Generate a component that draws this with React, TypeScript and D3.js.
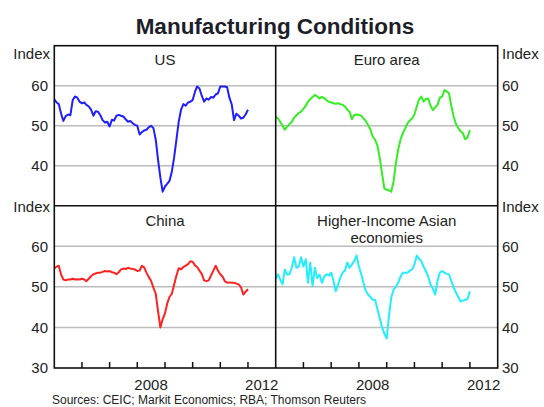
import { useEffect, useRef } from 'react';
import * as d3 from 'd3';

// Monthly PMI readings, Jan 2005 - Jan 2012
const usPmi = [
  56.6, 55.8, 55.4, 53.0, 51.2, 52.4, 52.8, 52.6, 56.4, 57.3, 57.0, 56.0,
  55.6, 55.8, 55.2, 54.8, 54.0, 52.5, 53.6, 53.5, 52.6, 51.4, 50.8, 51.0,
  49.8, 51.5, 51.3, 52.5, 52.7, 52.5, 52.3, 51.6, 51.0, 51.2, 50.6, 50.2,
  50.0, 47.8, 48.4, 48.8, 49.0, 49.6, 50.0, 49.4, 46.5, 41.5, 37.0, 33.5,
  34.8, 35.5, 36.2, 38.5, 42.0, 46.5, 51.0, 54.0, 55.4, 55.0, 55.8, 56.0,
  56.4, 58.5, 59.8, 59.3, 57.5, 56.0, 56.8, 56.5, 57.2, 57.0, 57.8, 58.1,
  59.8, 59.8, 59.8, 59.6, 57.0, 55.3, 51.4, 53.0, 52.5, 51.8, 52.0, 52.8,
  54.0,
];
const euroPmi = [
  52.2, 51.8, 51.0, 50.0, 49.0, 49.8, 50.4, 51.0, 52.0, 52.6, 53.2, 53.5,
  54.2, 55.0, 56.0, 56.6, 57.2, 57.7, 57.3, 56.8, 57.2, 56.9, 56.4, 56.0,
  55.8, 55.6, 55.5, 55.6, 55.4, 55.2, 54.8, 54.0, 53.5, 51.6, 52.7, 52.8,
  52.7, 52.5, 51.8, 51.2, 50.2, 49.0, 47.3, 46.5, 45.0, 42.0, 38.0, 34.3,
  34.0, 33.8, 33.5, 36.0, 40.5, 44.0, 46.5, 48.1, 49.3, 50.6, 51.3, 51.8,
  52.8, 54.8, 56.5, 57.3, 56.0, 56.7, 56.8, 55.0, 53.9, 54.6, 55.2, 57.0,
  57.3, 58.9, 58.6, 58.1, 55.0, 52.3, 50.5, 49.4, 48.6, 48.1, 46.6, 47.1,
  48.9,
];
const chinaPmi = [
  54.5, 55.0, 55.2, 53.0, 51.8, 51.6, 51.8, 51.8, 52.0, 51.8, 51.9, 51.8,
  52.0, 51.8, 51.4, 52.0, 52.6, 53.1, 53.3, 53.5, 53.5, 53.7, 53.9, 53.8,
  53.9, 53.6, 53.5, 53.1, 53.6, 54.3, 54.5, 54.4, 54.7, 54.5, 54.4, 54.3,
  53.9, 54.0, 55.2, 54.8, 53.5, 52.4, 51.5, 49.8, 48.3, 44.0, 40.0, 42.0,
  43.5, 46.0, 47.5, 48.3, 50.5, 52.8, 54.6, 54.3, 54.9, 55.2, 55.6, 56.3,
  56.2, 55.3, 54.9, 54.0, 53.2, 51.6, 51.4, 51.6, 52.8, 54.0, 55.2, 54.0,
  53.1, 52.5, 51.4, 51.0, 51.1, 51.0, 51.0, 50.8, 50.6, 49.9, 48.1, 48.8,
  49.4,
];
const asiaPmi = [
  52.0, 53.1, 51.8, 50.6, 54.3, 53.0, 53.1, 54.7, 57.3, 54.7, 55.0, 57.3,
  55.0, 56.8, 51.0, 56.0, 50.2, 54.7, 52.2, 53.0, 51.0, 52.5, 53.1, 52.8,
  53.5, 51.5, 48.9, 50.5, 52.2, 53.5, 54.0, 56.0, 54.7, 55.5, 56.4, 57.7,
  55.0, 53.1, 51.0, 49.0, 48.1, 47.5, 46.8, 46.8, 44.5, 42.3, 40.0, 38.5,
  37.3, 43.0, 47.3, 49.3, 50.0, 51.0, 52.5, 53.5, 53.5, 53.5, 54.0, 54.3,
  55.5, 57.7, 57.0, 56.4, 55.0, 53.9, 52.5, 50.6, 49.5, 48.1, 51.5, 53.5,
  53.9, 53.5, 53.2, 53.1, 51.5, 49.8, 48.6, 47.5, 46.4, 46.6, 46.8, 47.0,
  48.9,
];

const panelTitles = [['US'], ['Euro area'], ['China'], ['Higher-Income Asian', 'economies']];
const seriesColors = ['#1f1fff', '#33ee22', '#ff2222', '#22eeff'];
const gridValues = [40, 50, 60];
const topPanelTicks = [40, 50, 60];
const bottomPanelTicks = [30, 40, 50, 60];
const yearLabels = [2008, 2012];

const W = 544;
const H = 407;
const FONT = "'Liberation Sans', Arial, sans-serif";

const App = () => {
  const svgRef = useRef<SVGSVGElement>(null);

  useEffect(() => {
    if (!svgRef.current) return;
    const svg = d3.select(svgRef.current);
    svg.selectAll('*').remove();

    const left = 54.3, mid = 275.7, right = 497.7;
    const top = 45.7, midY = 205.7, bottom = 368;

    const months = d3.timeMonth.range(new Date(2005, 0, 1), new Date(2012, 1, 1));
    const series = [usPmi, euroPmi, chinaPmi, asiaPmi];

    const panels = [
      { x0: left, x1: mid, y0: top, y1: midY },
      { x0: mid, x1: right, y0: top, y1: midY },
      { x0: left, x1: mid, y0: midY, y1: bottom },
      { x0: mid, x1: right, y0: midY, y1: bottom },
    ];

    panels.forEach((p, i) => {
      const x = d3.scaleTime()
        .domain([new Date(2005, 0, 1), new Date(2013, 0, 1)])
        .range([p.x0, p.x1]);
      const y = d3.scaleLinear().domain([30, 70]).range([p.y1, p.y0]);
      const isBottom = i >= 2;
      const isRight = i % 2 === 1;

      // gridlines
      svg.append('g').selectAll('line')
        .data(gridValues)
        .join('line')
        .attr('x1', p.x0).attr('x2', p.x1)
        .attr('y1', d => y(d)).attr('y2', d => y(d))
        .attr('stroke', '#bcbcbc')
        .attr('stroke-width', 1.5);

      // series
      const line = d3.line<number>()
        .x((_, k) => x(months[k]))
        .y(d => y(d));
      svg.append('path')
        .datum(series[i])
        .attr('fill', 'none')
        .attr('stroke', seriesColors[i])
        .attr('stroke-width', 2)
        .attr('stroke-linejoin', 'round')
        .attr('d', line);

      // panel title
      const title = svg.append('text')
        .attr('x', (p.x0 + p.x1) / 2)
        .attr('text-anchor', 'middle')
        .attr('font-family', FONT)
        .attr('font-size', 15)
        .attr('fill', '#222');
      panelTitles[i].forEach((t, k) => {
        title.append('tspan')
          .attr('x', (p.x0 + p.x1) / 2)
          .attr('y', (isBottom ? 225.5 : 65) + k * 17.5)
          .text(t);
      });

      // y tick labels
      const ticks = isBottom ? bottomPanelTicks : topPanelTicks;
      svg.append('g').selectAll('text')
        .data(ticks)
        .join('text')
        .attr('x', isRight ? 502 : 48)
        .attr('y', d => y(d))
        .attr('dy', '0.36em')
        .attr('text-anchor', isRight ? 'start' : 'end')
        .attr('font-family', FONT)
        .attr('font-size', 15)
        .attr('fill', '#222')
        .text(d => d);

      svg.append('text')
        .attr('x', isRight ? 502 : 50)
        .attr('y', isBottom ? 211.5 : 59)
        .attr('text-anchor', isRight ? 'start' : 'end')
        .attr('font-family', FONT)
        .attr('font-size', 15)
        .attr('fill', '#222')
        .text('Index');

      if (isBottom) {
        // year ticks
        svg.append('g').selectAll('line')
          .data(d3.timeYear.range(new Date(2006, 0, 1), new Date(2013, 0, 1)))
          .join('line')
          .attr('x1', d => x(d)).attr('x2', d => x(d))
          .attr('y1', p.y1).attr('y2', p.y1 - 6)
          .attr('stroke', '#111')
          .attr('stroke-width', 1.5);

        svg.append('g').selectAll('text')
          .data(yearLabels)
          .join('text')
          .attr('x', d => x(new Date(d, 6, 1)))
          .attr('y', 390)
          .attr('text-anchor', 'middle')
          .attr('font-family', FONT)
          .attr('font-size', 15)
          .attr('fill', '#222')
          .text(d => d);
      }
    });

    // frame and dividers
    svg.append('rect')
      .attr('x', left).attr('y', top)
      .attr('width', right - left).attr('height', bottom - top)
      .attr('fill', 'none')
      .attr('stroke', '#111')
      .attr('stroke-width', 1.6);
    svg.append('line')
      .attr('x1', mid).attr('x2', mid).attr('y1', top).attr('y2', bottom)
      .attr('stroke', '#111').attr('stroke-width', 1.6);
    svg.append('line')
      .attr('x1', left).attr('x2', right).attr('y1', midY).attr('y2', midY)
      .attr('stroke', '#111').attr('stroke-width', 1.6);

    svg.append('text')
      .attr('x', 275)
      .attr('y', 33.5)
      .attr('text-anchor', 'middle')
      .attr('font-family', FONT)
      .attr('font-size', 22.5)
      .attr('font-weight', 'bold')
      .attr('fill', '#1e1e2a')
      .text('Manufacturing Conditions');

    svg.append('text')
      .attr('x', 52)
      .attr('y', 404)
      .attr('font-family', FONT)
      .attr('font-size', 12)
      .attr('fill', '#222')
      .text('Sources: CEIC; Markit Economics; RBA; Thomson Reuters');
  }, []);

  return (
    <svg
      ref={svgRef}
      width={W}
      height={H}
      style={{ position: 'absolute', left: 0, top: 0, background: '#fff' }}
    />
  );
};

export default App;
